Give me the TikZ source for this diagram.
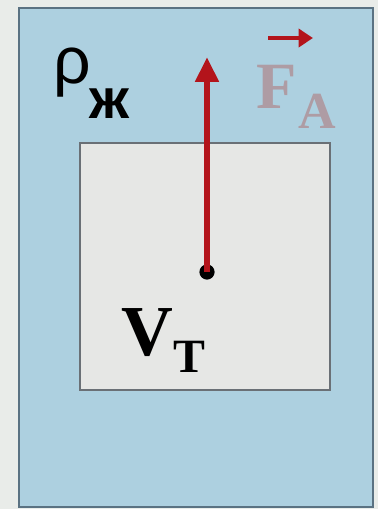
\documentclass[tikz,border=0pt]{standalone}
\usepackage{fontspec}
\setmainfont{Liberation Serif}
\newfontfamily\sansfont{Liberation Sans}
\usetikzlibrary{arrows.meta}
\definecolor{paper}{HTML}{E9ECE9}
\definecolor{water}{HTML}{ADD0E0}
\definecolor{frameline}{HTML}{5A7282}
\definecolor{bodygrey}{HTML}{E6E7E5}
\definecolor{boxline}{HTML}{6A7076}
\definecolor{forcered}{HTML}{B3141B}
\definecolor{faded}{HTML}{AE9CA4}
\tikzset{
    vessel/.style={draw=frameline, line width=1.2pt, fill=water},
    body/.style={draw=boxline, line width=1.2pt, fill=bodygrey},
    force/.style={draw=forcered, line width=4.5pt, -{Triangle[length=0.62cm, width=0.56cm]}},
    vecmark/.style={draw=forcered, line width=3.5pt, -{Triangle[length=0.36cm, width=0.45cm]}},
    lbl/.style={inner sep=0pt, anchor=base west},
    centre/.style={circle, fill=black, minimum size=0.38cm, inner sep=0pt},
}
\begin{document}
\begin{tikzpicture}[x=0.025cm, y=-0.025cm]

    % background and bounding box
    \fill[paper] (0,0) rectangle (378,509);
    \useasboundingbox (0,0) rectangle (378,509);

    % liquid and body
    \draw[vessel] (19,8) rectangle (373,507);
    \draw[body] (80,143) rectangle (330,390);

    % buoyant force
    \node[centre] (c) at (207,272) {};
    \coordinate (tip) at (207,57);
    \draw[force] (c.center) -- (tip);

    % labels
    \node[lbl] (rho) at (53,83) {\sansfont\fontsize{47}{54}\selectfont ρ};
    \node[lbl] (rhosub) at (89,118) {\sansfont\bfseries\fontsize{40}{46}\selectfont ж};

    \node[lbl, text=faded] (fa) at (256,108) {\bfseries\fontsize{47}{54}\selectfont F};
    \node[lbl, text=faded] (fasub) at (298,128) {\bfseries\fontsize{37}{44}\selectfont A};
    \coordinate (vs) at (268,38);
    \coordinate (ve) at (313,38);
    \draw[vecmark] (vs) -- (ve);

    \node[lbl] (vt) at (121,355) {\bfseries\fontsize{51}{58}\selectfont V};
    \node[lbl] (vtsub) at (173,372) {\bfseries\fontsize{34}{40}\selectfont Т};

\end{tikzpicture}
\end{document}
